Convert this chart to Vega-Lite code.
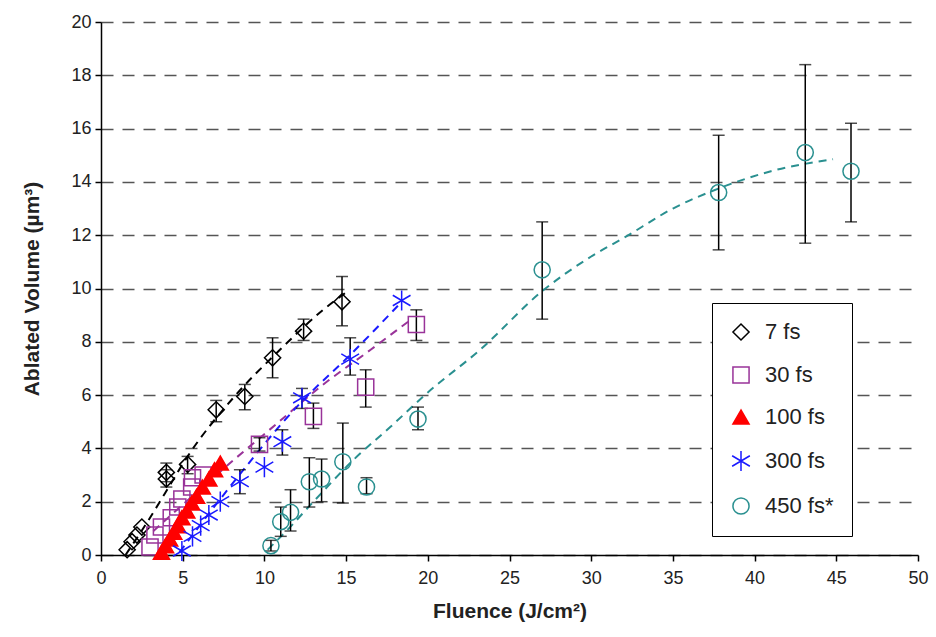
{
  "$schema": "https://vega.github.io/schema/vega-lite/v6.json",
  "width": 817,
  "height": 533,
  "autosize": "none",
  "padding": {"left": 101, "top": 22, "right": 18, "bottom": 82},
  "background": "white",
  "config": {
    "font": "Liberation Sans",
    "view": {"stroke": null},
    "scale": {"continuousPadding": 0},
    "axis": {
      "domainColor": "black",
      "domainWidth": 1.5,
      "tickColor": "black",
      "tickWidth": 1.5,
      "tickSize": 6,
      "labelFontSize": 18,
      "labelColor": "#222",
      "labelFlush": false,
      "labelOverlap": false,
      "titleFontSize": 21,
      "titleFontWeight": "bold",
      "titleColor": "#222"
    },
    "legend": {
      "orient": "none",
      "legendX": 611,
      "legendY": 281,
      "strokeColor": "black",
      "fillColor": "white",
      "padding": 18,
      "rowPadding": 19,
      "labelFontSize": 22,
      "labelColor": "#222",
      "labelOffset": 13,
      "symbolSize": 260,
      "symbolStrokeWidth": 1.5
    }
  },
  "datasets": {
    "pts": [
      {"s": "7 fs", "x": 1.6, "y": 0.2},
      {"s": "7 fs", "x": 1.9, "y": 0.5},
      {"s": "7 fs", "x": 2.2, "y": 0.75},
      {"s": "7 fs", "x": 2.5, "y": 1.05},
      {"s": "7 fs", "x": 4.0, "y": 3.1, "lo": 2.75, "hi": 3.45},
      {"s": "7 fs", "x": 4.0, "y": 2.85, "lo": 2.55, "hi": 3.2},
      {"s": "7 fs", "x": 5.3, "y": 3.4, "lo": 3.05, "hi": 3.7},
      {"s": "7 fs", "x": 7.05, "y": 5.45, "lo": 5.0, "hi": 5.8},
      {"s": "7 fs", "x": 8.8, "y": 5.95, "lo": 5.45, "hi": 6.4},
      {"s": "7 fs", "x": 10.5, "y": 7.4, "lo": 6.65, "hi": 8.15},
      {"s": "7 fs", "x": 12.4, "y": 8.4, "lo": 8.05, "hi": 8.85},
      {"s": "7 fs", "x": 14.75, "y": 9.5, "lo": 8.6, "hi": 10.45},
      {"s": "30 fs", "x": 3.0, "y": 0.3},
      {"s": "30 fs", "x": 3.3, "y": 0.75},
      {"s": "30 fs", "x": 3.7, "y": 1.05},
      {"s": "30 fs", "x": 4.3, "y": 1.4},
      {"s": "30 fs", "x": 4.7, "y": 1.8},
      {"s": "30 fs", "x": 4.95, "y": 2.1},
      {"s": "30 fs", "x": 5.55, "y": 2.55},
      {"s": "30 fs", "x": 5.6, "y": 2.9},
      {"s": "30 fs", "x": 6.25, "y": 3.0},
      {"s": "30 fs", "x": 9.7, "y": 4.15, "lo": 3.9, "hi": 4.4},
      {"s": "30 fs", "x": 13.0, "y": 5.2, "lo": 4.75, "hi": 5.7},
      {"s": "30 fs", "x": 16.2, "y": 6.3, "lo": 5.55, "hi": 6.95},
      {"s": "30 fs", "x": 19.3, "y": 8.65, "lo": 8.05, "hi": 9.2},
      {"s": "100 fs", "x": 3.7, "y": 0.1},
      {"s": "100 fs", "x": 3.95, "y": 0.35},
      {"s": "100 fs", "x": 4.2, "y": 0.6},
      {"s": "100 fs", "x": 4.45, "y": 0.85},
      {"s": "100 fs", "x": 4.7, "y": 1.1},
      {"s": "100 fs", "x": 4.95, "y": 1.4},
      {"s": "100 fs", "x": 5.25, "y": 1.65},
      {"s": "100 fs", "x": 5.55, "y": 1.95},
      {"s": "100 fs", "x": 5.85, "y": 2.2},
      {"s": "100 fs", "x": 6.2, "y": 2.55},
      {"s": "100 fs", "x": 6.6, "y": 2.85},
      {"s": "100 fs", "x": 6.95, "y": 3.2},
      {"s": "100 fs", "x": 7.3, "y": 3.45},
      {"s": "300 fs", "x": 4.95, "y": 0.15},
      {"s": "300 fs", "x": 5.6, "y": 0.7},
      {"s": "300 fs", "x": 6.1, "y": 1.1},
      {"s": "300 fs", "x": 6.6, "y": 1.5},
      {"s": "300 fs", "x": 7.3, "y": 2.0},
      {"s": "300 fs", "x": 8.5, "y": 2.75, "lo": 2.3, "hi": 3.2},
      {"s": "300 fs", "x": 10.0, "y": 3.3},
      {"s": "300 fs", "x": 11.1, "y": 4.25, "lo": 3.75, "hi": 4.7},
      {"s": "300 fs", "x": 12.3, "y": 5.9, "lo": 5.5, "hi": 6.25},
      {"s": "300 fs", "x": 15.25, "y": 7.35, "lo": 6.75, "hi": 8.15},
      {"s": "300 fs", "x": 18.4, "y": 9.55},
      {"s": "450 fs*", "x": 10.4, "y": 0.35, "lo": 0.15, "hi": 0.55},
      {"s": "450 fs*", "x": 11.0, "y": 1.25, "lo": 0.7, "hi": 1.8},
      {"s": "450 fs*", "x": 11.6, "y": 1.6, "lo": 0.9, "hi": 2.45},
      {"s": "450 fs*", "x": 12.75, "y": 2.75, "lo": 1.8, "hi": 3.65},
      {"s": "450 fs*", "x": 13.5, "y": 2.85, "lo": 2.0, "hi": 3.6},
      {"s": "450 fs*", "x": 14.8, "y": 3.5, "lo": 1.95, "hi": 4.95},
      {"s": "450 fs*", "x": 16.25, "y": 2.55, "lo": 2.3, "hi": 2.9},
      {"s": "450 fs*", "x": 19.4, "y": 5.1, "lo": 4.7, "hi": 5.55},
      {"s": "450 fs*", "x": 27.0, "y": 10.7, "lo": 8.85, "hi": 12.5},
      {"s": "450 fs*", "x": 37.8, "y": 13.6, "lo": 11.45, "hi": 15.75},
      {"s": "450 fs*", "x": 43.1, "y": 15.1, "lo": 11.7, "hi": 18.4},
      {"s": "450 fs*", "x": 45.9, "y": 14.4, "lo": 12.5, "hi": 16.2}
    ],
    "fits": [
      {"s": "7 fs", "x": 1.5, "y": 0.0},
      {"s": "7 fs", "x": 2.9, "y": 1.3},
      {"s": "7 fs", "x": 3.9, "y": 2.3},
      {"s": "7 fs", "x": 5.3, "y": 3.7},
      {"s": "7 fs", "x": 8.1, "y": 5.9},
      {"s": "7 fs", "x": 10.95, "y": 7.7},
      {"s": "7 fs", "x": 13.6, "y": 9.2},
      {"s": "7 fs", "x": 15.1, "y": 9.9},
      {"s": "30 fs", "x": 3.2, "y": 0.9},
      {"s": "30 fs", "x": 7.9, "y": 3.45},
      {"s": "30 fs", "x": 10.8, "y": 4.95},
      {"s": "30 fs", "x": 13.4, "y": 6.3},
      {"s": "30 fs", "x": 16.5, "y": 7.7},
      {"s": "30 fs", "x": 19.0, "y": 8.85},
      {"s": "300 fs", "x": 4.8, "y": 0.1},
      {"s": "300 fs", "x": 7.3, "y": 2.1},
      {"s": "300 fs", "x": 12.2, "y": 5.7},
      {"s": "300 fs", "x": 15.4, "y": 7.6},
      {"s": "300 fs", "x": 18.4, "y": 9.5},
      {"s": "450 fs*", "x": 10.2, "y": 0.2},
      {"s": "450 fs*", "x": 11.5, "y": 1.0},
      {"s": "450 fs*", "x": 13.0, "y": 2.0},
      {"s": "450 fs*", "x": 15.5, "y": 3.6},
      {"s": "450 fs*", "x": 17.7, "y": 4.8},
      {"s": "450 fs*", "x": 20.0, "y": 6.1},
      {"s": "450 fs*", "x": 23.2, "y": 7.7},
      {"s": "450 fs*", "x": 27.0, "y": 9.9},
      {"s": "450 fs*", "x": 30.0, "y": 11.2},
      {"s": "450 fs*", "x": 32.0, "y": 11.9},
      {"s": "450 fs*", "x": 35.0, "y": 13.0},
      {"s": "450 fs*", "x": 38.0, "y": 13.8},
      {"s": "450 fs*", "x": 41.0, "y": 14.4},
      {"s": "450 fs*", "x": 44.8, "y": 14.85}
    ]
  },
  "layer": [
    {
      "data": {"name": "fits"},
      "transform": [{"filter": "datum.s === '7 fs'"}],
      "mark": {"type": "line", "color": "black", "strokeWidth": 2, "strokeDash": [8, 6], "interpolate": "monotone"},
      "encoding": {
        "x": {"field": "x", "type": "quantitative", "scale": {"domain": [0, 50], "nice": false, "padding": 0},
          "title": "Fluence (J/cm²)",
          "axis": {"values": [0, 5, 10, 15, 20, 25, 30, 35, 40, 45, 50], "grid": false, "labelPadding": 8, "titlePadding": 13}},
        "y": {"field": "y", "type": "quantitative", "scale": {"domain": [0, 20], "nice": false, "padding": 0},
          "title": "Ablated Volume (µm³)",
          "axis": {"values": [0, 2, 4, 6, 8, 10, 12, 14, 16, 18, 20], "grid": true, "gridColor": "#555", "gridDash": [12, 9], "gridWidth": 1.5, "labelPadding": 4, "titlePadding": 28}}
      }
    },
    {
      "data": {"name": "fits"},
      "transform": [{"filter": "datum.s === '30 fs'"}],
      "mark": {"type": "line", "color": "#993399", "strokeWidth": 2, "strokeDash": [8, 6], "interpolate": "monotone"},
      "encoding": {
        "x": {"field": "x", "type": "quantitative", "title": "Fluence (J/cm²)"},
        "y": {"field": "y", "type": "quantitative", "title": "Ablated Volume (µm³)"}
      }
    },
    {
      "data": {"name": "fits"},
      "transform": [{"filter": "datum.s === '300 fs'"}],
      "mark": {"type": "line", "color": "#1a1aff", "strokeWidth": 2, "strokeDash": [8, 6], "interpolate": "monotone"},
      "encoding": {
        "x": {"field": "x", "type": "quantitative", "title": "Fluence (J/cm²)"},
        "y": {"field": "y", "type": "quantitative", "title": "Ablated Volume (µm³)"}
      }
    },
    {
      "data": {"name": "fits"},
      "transform": [{"filter": "datum.s === '450 fs*'"}],
      "mark": {"type": "line", "color": "#2a9090", "strokeWidth": 2, "strokeDash": [8, 6], "interpolate": "monotone"},
      "encoding": {
        "x": {"field": "x", "type": "quantitative", "title": "Fluence (J/cm²)"},
        "y": {"field": "y", "type": "quantitative", "title": "Ablated Volume (µm³)"}
      }
    },
    {
      "data": {"name": "pts"},
      "transform": [{"filter": "isValid(datum.lo)"}],
      "mark": {"type": "rule", "color": "black", "strokeWidth": 1.5},
      "encoding": {
        "x": {"field": "x", "type": "quantitative", "title": "Fluence (J/cm²)"},
        "y": {"field": "lo", "type": "quantitative", "title": "Ablated Volume (µm³)"},
        "y2": {"field": "hi"}
      }
    },
    {
      "data": {"name": "pts"},
      "transform": [{"filter": "isValid(datum.lo)"}],
      "mark": {"type": "tick", "orient": "horizontal", "color": "black", "size": 12, "thickness": 1.5},
      "encoding": {
        "x": {"field": "x", "type": "quantitative", "title": "Fluence (J/cm²)"},
        "y": {"field": "lo", "type": "quantitative", "title": "Ablated Volume (µm³)"}
      }
    },
    {
      "data": {"name": "pts"},
      "transform": [{"filter": "isValid(datum.hi)"}],
      "mark": {"type": "tick", "orient": "horizontal", "color": "black", "size": 12, "thickness": 1.5},
      "encoding": {
        "x": {"field": "x", "type": "quantitative", "title": "Fluence (J/cm²)"},
        "y": {"field": "hi", "type": "quantitative", "title": "Ablated Volume (µm³)"}
      }
    },
    {
      "data": {"name": "pts"},
      "mark": {"type": "point", "size": 260, "strokeWidth": 1.5, "opacity": 1},
      "encoding": {
        "x": {"field": "x", "type": "quantitative", "title": "Fluence (J/cm²)"},
        "y": {"field": "y", "type": "quantitative", "title": "Ablated Volume (µm³)"},
        "shape": {"field": "s", "type": "nominal", "title": null,
          "scale": {"domain": ["7 fs", "30 fs", "100 fs", "300 fs", "450 fs*"],
            "range": ["diamond", "square", "triangle-up", "M0,-1.25L0,1.25M-1.1,-0.65L1.1,0.65M-1.1,0.65L1.1,-0.65", "circle"]}},
        "stroke": {"field": "s", "type": "nominal", "title": null,
          "scale": {"domain": ["7 fs", "30 fs", "100 fs", "300 fs", "450 fs*"],
            "range": ["black", "#993399", "#ff0000", "#1a1aff", "#2a9090"]}},
        "fill": {"field": "s", "type": "nominal", "title": null,
          "scale": {"domain": ["7 fs", "30 fs", "100 fs", "300 fs", "450 fs*"],
            "range": ["transparent", "transparent", "#ff0000", "transparent", "transparent"]}}
      }
    }
  ]
}
